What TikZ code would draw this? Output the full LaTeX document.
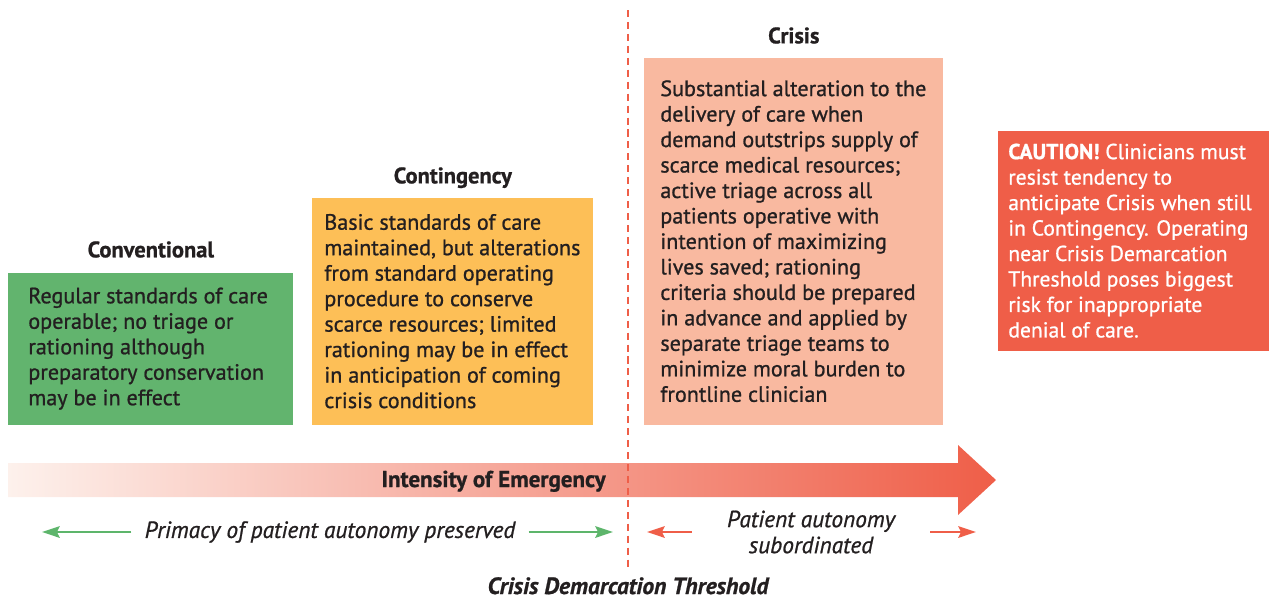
\documentclass[tikz,border=0pt]{standalone}
\usepackage{fontspec}
\setmainfont{PT Sans}[RawFeature={embolden=0.9}]
\usetikzlibrary{arrows.meta,positioning}

\definecolor{convgreen}{HTML}{62B46E}
\definecolor{contorange}{HTML}{FDBF57}
\definecolor{crisispink}{HTML}{F9B9A0}
\definecolor{cautionred}{HTML}{EF5E48}
\definecolor{inkdark}{HTML}{231F20}
\definecolor{arrowgreen}{HTML}{5DB56B}
\definecolor{shadelight}{HTML}{FDF1EC}

\tikzset{
  box/.style={anchor=south west, inner sep=0pt},
  boxtext/.style={anchor=west, inner sep=0pt, align=left, text=inkdark,
    font=\fontsize{12.6}{14.5}\selectfont},
  heading/.style={font=\bfseries\fontsize{12.8}{14}\selectfont, text=inkdark, inner sep=0pt},
  note/.style={font=\itshape\fontsize{13.3}{14.8}\selectfont, text=inkdark, align=center},
  greenarrow/.style={draw=arrowgreen, line width=1.5pt,
    -{Stealth[length=10pt,width=6.5pt,inset=1.5pt]}},
  redarrow/.style={draw=cautionred, line width=1.5pt,
    -{Stealth[length=10pt,width=6.5pt,inset=1.5pt]}},
  threshline/.style={draw=cautionred, line width=1.5pt, dash pattern=on 4pt off 2.8pt}
}

\begin{document}
\begin{tikzpicture}[x=0.02cm, y=-0.02cm]
  \useasboundingbox (0,0) rectangle (1269,600);

  % the four stages
  \node[box, fill=convgreen, minimum width=5.7cm, minimum height=3.04cm] (conv) at (8,425) {};
  \node[box, fill=contorange, minimum width=5.62cm, minimum height=4.54cm] (cont) at (312,425) {};
  \node[box, fill=crisispink, minimum width=5.98cm, minimum height=7.34cm] (crisis) at (644,425) {};
  \node[box, fill=cautionred, minimum width=5.42cm, minimum height=4.4cm] (caution) at (998,351) {};

  \node[boxtext, right=0.4cm of conv.west] (convtext)
    {Regular standards of care\\ operable; no triage or\\ rationing although\\
     preparatory conservation\\ may be in effect};
  \node[boxtext, right=0.24cm of cont.west] (conttext)
    {Basic standards of care\\ maintained, but alterations\\ from standard operating\\
     procedure to conserve\\ scarce resources; limited\\ rationing may be in effect\\
     in anticipation of coming\\ crisis conditions};
  \node[boxtext, right=0.32cm of crisis.west] (crisistext)
    {Substantial alteration to the\\ delivery of care when\\ demand outstrips supply of\\
     scarce medical resources;\\ active triage across all\\ patients operative with\\
     intention of maximizing\\ lives saved; rationing\\ criteria should be prepared\\
     in advance and applied by\\ separate triage teams to\\ minimize moral burden to\\
     frontline clinician};
  \node[boxtext, text=white, font=\fontsize{12.3}{14.5}\selectfont, right=0.2cm of caution.west]
    (cautiontext)
    {\textbf{CAUTION!} Clinicians must\\ resist tendency to\\ anticipate Crisis when still\\
     in Contingency. Operating\\ near Crisis Demarcation\\ Threshold poses biggest\\
     risk for inappropriate\\ denial of care.};

  \node[heading, above=0.3cm of conv.north, anchor=base] (convtitle) {Conventional};
  \node[heading, above=0.28cm of cont.north, anchor=base] (conttitle) {Contingency};
  \node[heading, above=0.28cm of crisis.north, anchor=base] (crisistitle) {Crisis};

  % intensity arrow
  \shade[left color=shadelight, right color=cautionred]
    (8,463) -- (958,463) -- (958,445) -- (996,480) -- (958,515) -- (958,497) -- (8,497) -- cycle;
  \node[heading, font=\bfseries\fontsize{13.1}{14}\selectfont, anchor=base east]
    (intensity) at (606,487) {Intensity of Emergency};

  % autonomy
  \node[note, inner xsep=0.26cm] (primacy) at (330,532) {Primacy of patient autonomy preserved};
  \coordinate (primacyleft) at (42,532);
  \coordinate (primacyright) at (613,532);
  \draw[greenarrow] (primacy.west) -- (primacyleft);
  \draw[greenarrow] (primacy.east) -- (primacyright);

  \node[note, inner xsep=0.7cm] (subord) at (811,532) {Patient autonomy\\ subordinated};
  \coordinate (subordleft) at (647,532);
  \coordinate (subordright) at (976,532);
  \draw[redarrow] (subord.west) -- (subordleft);
  \draw[redarrow] (subord.east) -- (subordright);

  % threshold
  \coordinate (threshtop) at (628,10);
  \node[heading, font=\bfseries\itshape\fontsize{13.4}{14}\selectfont, anchor=base, outer sep=5pt]
    (threshold) at (628,594) {Crisis Demarcation Threshold};
  \draw[threshline] (threshtop) -- (threshold.north);
\end{tikzpicture}
\end{document}
